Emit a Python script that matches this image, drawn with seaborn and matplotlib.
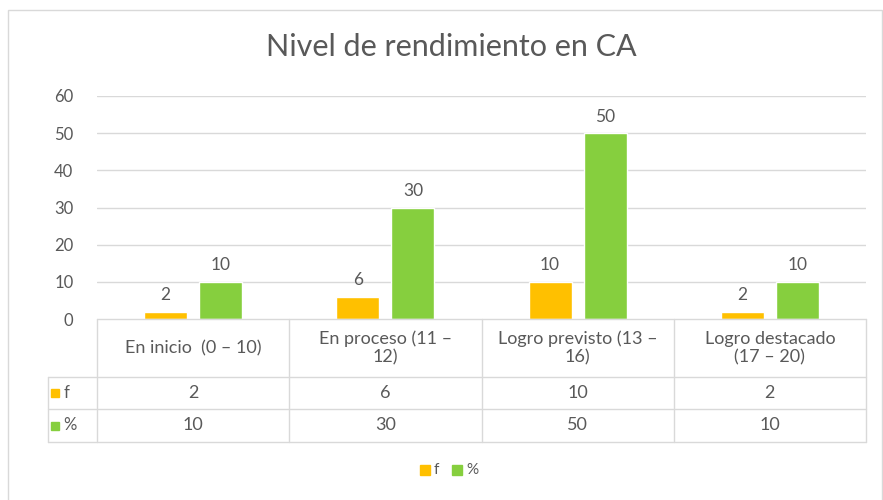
import matplotlib
matplotlib.use("Agg")
import matplotlib.pyplot as plt
import matplotlib.transforms as mtransforms
from matplotlib.patches import Rectangle
import seaborn as sns
import pandas as pd

# ---- data ----
categories = ["En inicio  (0 – 10)", "En proceso (11 –\n12)", "Logro previsto (13 –\n16)", "Logro destacado\n(17 – 20)"]
f_values = [2, 6, 10, 2]
pct_values = [10, 30, 50, 10]
series_names = ["f", "%"]
y_ticks = [0, 10, 20, 30, 40, 50, 60]
title = "Nivel de rendimiento en CA"

colors = {"f": "#FFC000", "%": "#86CF3E"}
text_color = "#595959"
grid_color = "#D9D9D9"

sns.set_theme(style="white")
plt.rcParams["font.family"] = ["Lato", "DejaVu Sans"]

df = pd.DataFrame({
    "cat": categories * 2,
    "serie": [series_names[0]] * 4 + [series_names[1]] * 4,
    "val": f_values + pct_values,
})

W, H = 883, 500
fig = plt.figure(figsize=(W / 100, H / 100), dpi=100)
ax = fig.add_axes([97 / W, (H - 319) / H, (866 - 97) / W, (319 - 96) / H])

sns.barplot(data=df, x="cat", y="val", hue="serie", palette=colors,
            width=0.573, gap=0.22, ax=ax, legend=False, saturation=1)

ax.set_ylim(0, 60)
ax.set_xlim(-0.5, 3.5)
ax.set_yticks(y_ticks)
ax.set_yticklabels([str(t) for t in y_ticks], color=text_color, fontsize=12)
ax.tick_params(axis="y", length=0, pad=17)
ax.set_xticks([])
ax.set_xlabel("")
ax.set_ylabel("")
for s in ax.spines.values():
    s.set_visible(False)
for t in y_ticks[1:]:
    ax.axhline(t, color=grid_color, lw=1, zorder=0)

# data labels
for cont in ax.containers:
    ax.bar_label(cont, padding=6, color=text_color, fontsize=12.5)

# title
fig.text(451 / W, 1 - 47 / H, title, ha="center", va="center",
         fontsize=22, color=text_color)

# ---- data table below the axis ----
tr = mtransforms.blended_transform_factory(ax.transData, ax.transAxes)
ph = 319 - 96
def yf(py):
    return (319 - py) / ph

y_top, y_cat, y_f, y_p = yf(319), yf(377), yf(409), yf(442)
x_left = -0.755
line_kw = dict(color=grid_color, lw=1, transform=tr, clip_on=False)

# horizontal lines
ax.plot([-0.5, 3.5], [y_top, y_top], **line_kw)
for yy in (y_cat, y_f, y_p):
    ax.plot([x_left, 3.5], [yy, yy], **line_kw)
# vertical lines
for xx in (-0.5, 0.5, 1.5, 2.5, 3.5):
    ax.plot([xx, xx], [y_top, y_p], **line_kw)
ax.plot([x_left, x_left], [y_cat, y_p], **line_kw)

for i, cat in enumerate(categories):
    ax.text(i, (y_top + y_cat) / 2, cat, transform=tr, ha="center", va="center",
            fontsize=13, color=text_color, linespacing=1.2)
    ax.text(i, (y_cat + y_f) / 2, str(f_values[i]), transform=tr, ha="center",
            va="center", fontsize=13, color=text_color)
    ax.text(i, (y_f + y_p) / 2, str(pct_values[i]), transform=tr, ha="center",
            va="center", fontsize=13, color=text_color)

# row headers with legend keys
sq = 8 / 192
sqh = 8 / ph
for name, (ya, yb) in zip(series_names, [(y_cat, y_f), (y_f, y_p)]):
    yc = (ya + yb) / 2
    ax.add_patch(Rectangle((x_left + 0.015, yc - sqh / 2), sq, sqh, transform=tr,
                           color=colors[name], clip_on=False))
    ax.text(x_left + 0.015 + sq + 0.025, yc, name, transform=tr, ha="left",
            va="center", fontsize=12, color=text_color)

# bottom legend
ly = 1 - 470 / H
for name, xk in zip(series_names, [420 / W, 452 / W]):
    fig.patches.append(Rectangle((xk, ly - 5 / H), 10 / W, 10 / H,
                                 transform=fig.transFigure, color=colors[name]))
    fig.text(xk + 14 / W, ly, name, ha="left", va="center", fontsize=11,
             color=text_color)

# chart border
fig.patches.append(Rectangle((8 / W, -0.05), (882 - 8) / W, 1.05 - 10 / H,
                             transform=fig.transFigure, fill=False,
                             edgecolor="#D9D9D9", lw=1))

fig.savefig("out.png", dpi=100)
